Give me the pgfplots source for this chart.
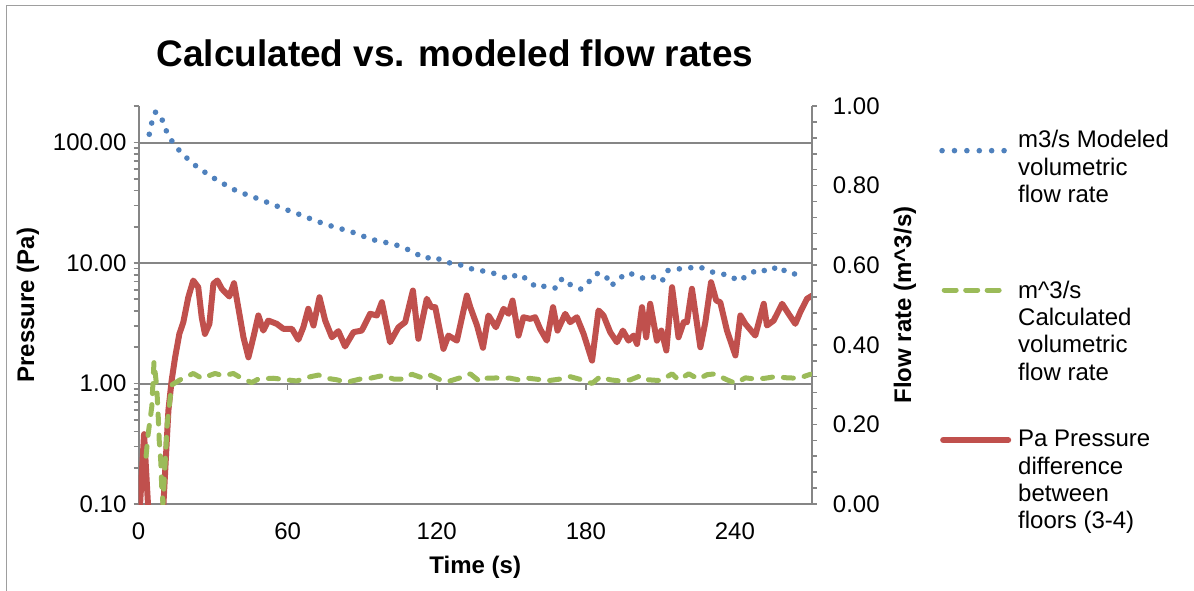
\documentclass[border=0pt]{standalone}
\usepackage{fontspec}
\setmainfont{Liberation Sans}
\usepackage{pgfplots}
\usepackage{pgfplotstable}
\pgfplotsset{compat=1.18}

\definecolor{xlblue}{HTML}{4F81BD}
\definecolor{xlred}{HTML}{C0504D}
\definecolor{xlgreen}{HTML}{9BBB59}
\definecolor{xlgrid}{HTML}{868686}

% pressure difference between floors 3-4 (Pa, left log axis)
\pgfplotstableread{
t p
0.0 0.06
0.6 0.10
2.2 0.38
3.9 0.09
5.0 0.04
9.0 0.04
10.0 0.10
12.0 0.60
13.3 1.06
14.7 1.65
16.4 2.58
18.0 3.23
20.0 5.20
22.0 7.16
24.0 6.30
25.4 3.55
26.7 2.58
28.5 3.13
30.1 6.72
31.7 7.16
33.5 6.11
36.5 5.27
38.4 6.80
40.1 4.30
42.2 2.42
44.2 1.65
46.2 2.42
48.2 3.67
50.2 2.75
52.2 3.33
55.6 3.13
58.3 2.84
61.7 2.84
64.3 2.31
66.3 2.93
68.3 4.17
70.4 3.03
72.8 5.20
75.1 3.33
77.8 2.42
80.4 2.72
83.1 2.03
86.5 2.67
89.8 2.75
93.2 3.79
95.9 3.67
97.9 4.73
101.2 2.20
104.6 2.93
107.3 3.23
110.4 5.91
112.6 2.35
116.0 5.05
117.8 4.30
119.4 4.30
122.7 1.94
124.7 2.50
128.1 2.27
132.1 5.37
133.5 4.30
136.2 3.03
138.6 1.98
140.8 3.67
143.8 2.93
146.9 4.17
148.9 3.79
150.5 4.88
152.9 2.50
154.9 3.55
157.6 3.44
159.6 3.55
161.6 2.84
164.3 2.27
166.8 4.30
168.6 2.75
171.7 3.79
173.7 3.23
176.4 3.55
179.1 2.58
182.5 1.55
185.1 4.04
187.1 3.67
189.8 2.67
192.5 2.20
194.9 2.75
197.2 2.27
199.2 2.50
200.6 2.13
202.6 4.30
204.3 2.42
205.9 4.59
208.6 2.27
210.4 2.75
212.4 1.88
214.7 6.30
217.3 2.42
219.4 3.23
220.7 3.23
222.7 6.11
226.1 2.00
228.1 3.23
230.4 6.93
232.5 4.88
234.1 4.73
236.8 2.75
240.2 1.71
242.2 3.67
244.2 3.13
248.2 2.50
251.6 4.59
252.9 3.03
255.6 3.33
259.0 4.59
261.6 3.79
264.3 3.13
266.3 3.91
269.0 5.05
271.1 5.37
}\pressure

% modeled volumetric flow rate (m3/s, right axis)
\pgfplotstableread{
t q
4.3 0.929
5.3 0.958
6.9 0.986
9.5 0.965
11.2 0.937
13.6 0.910
16.4 0.888
19.8 0.867
23.5 0.847
27.3 0.831
31.5 0.814
35.5 0.800
39.6 0.786
44.1 0.776
48.5 0.766
53.0 0.755
57.5 0.744
61.9 0.734
66.3 0.724
70.6 0.713
75.2 0.703
79.8 0.694
84.2 0.687
88.8 0.677
93.1 0.666
97.7 0.659
102.3 0.654
106.6 0.644
110.8 0.633
114.8 0.617
119.2 0.621
123.4 0.607
128.1 0.604
132.4 0.594
136.6 0.586
140.6 0.585
144.9 0.575
149.2 0.565
152.5 0.578
156.7 0.564
160.0 0.544
164.2 0.548
168.1 0.542
170.5 0.567
174.0 0.550
178.0 0.540
181.5 0.560
184.5 0.579
187.9 0.575
190.2 0.548
193.1 0.565
196.8 0.581
201.1 0.573
203.9 0.565
207.3 0.570
210.7 0.559
212.4 0.586
216.4 0.590
221.2 0.593
225.8 0.596
229.6 0.585
233.3 0.579
237.9 0.575
241.3 0.560
245.4 0.575
249.3 0.590
253.7 0.584
257.5 0.598
261.2 0.580
265.4 0.577
268.1 0.574
}\modeled

% calculated volumetric flow rate (m^3/s, right axis)
\pgfplotstableread{
t q
3.0 0.120
3.9 0.178
5.3 0.244
6.2 0.357
7.3 0.295
7.9 0.220
8.3 0.160
8.9 0.110
9.3 0.045
9.8 0.000
11.5 0.200
13.3 0.299
16.7 0.312
22.0 0.328
25.4 0.316
30.8 0.328
34.1 0.322
38.1 0.328
41.5 0.316
45.5 0.305
48.2 0.314
54.2 0.316
58.3 0.313
63.7 0.309
67.0 0.317
72.4 0.324
75.7 0.316
79.8 0.312
83.8 0.306
89.2 0.314
93.2 0.316
98.5 0.323
102.6 0.314
106.6 0.314
110.0 0.326
114.6 0.316
117.3 0.324
121.4 0.312
124.1 0.307
129.4 0.317
133.5 0.327
137.5 0.307
140.2 0.316
145.5 0.317
149.6 0.316
152.9 0.312
156.9 0.316
161.0 0.313
165.0 0.310
169.7 0.314
173.7 0.320
178.4 0.312
182.5 0.303
185.8 0.320
189.8 0.312
193.9 0.309
197.9 0.312
201.9 0.322
205.3 0.312
210.0 0.310
214.7 0.327
217.3 0.312
221.4 0.327
225.4 0.314
228.8 0.325
232.1 0.327
236.1 0.314
240.2 0.303
244.2 0.317
248.2 0.314
252.2 0.316
256.3 0.320
261.0 0.317
265.7 0.316
270.4 0.326
}\calculated

\pgfplotsset{
  chart/.style={
    scale only axis, width=505pt, height=298.5pt,
    at={(0pt,0pt)}, anchor=south west,
    xmin=0, xmax=271,
    tick align=outside,
    major tick length=3.75pt, minor tick length=3.75pt,
    tick style={xlgrid, line width=1.2pt},
    axis line style={xlgrid, line width=1.5pt},
    /pgf/number format/assume math mode=true,
    ticklabel style={font=\fontsize{18}{21}\selectfont, inner sep=0pt},
    label style={font=\bfseries\fontsize{18}{21}\selectfont},
  }
}

\begin{document}
\begin{tikzpicture}
\path[use as bounding box] (-103.95pt,-64.5pt) rectangle (791.55pt,378pt);
\draw[xlgrid!80, line width=0.9pt] (-99.1pt,-70pt) -- (-99.1pt,373.9pt) -- (800pt,373.9pt);

\begin{axis}[chart,
  ymode=log, ymin=0.1, ymax=201,
  axis y line*=left, axis x line*=bottom,
  ytick={0.1,1,10,100}, yticklabels={0.10,1.00,10.00,100.00},
  minor ytick={0.2,0.3,0.4,0.5,0.6,0.7,0.8,0.9,2,3,4,5,6,7,8,9,20,30,40,50,60,70,80,90,200},
  ymajorgrids, major grid style={xlgrid, line width=1.5pt},
  xtick={0,60,120,180,240},
  xtick style={draw=none},
  xticklabel style={anchor=north, yshift=-10.1pt},
  yticklabel style={anchor=east, xshift=-5.2pt},
  xlabel={Time (s)}, ylabel={Pressure (Pa)},
  xlabel style={at={(axis description cs:0.5,-0.1583)}, anchor=center},
  ylabel style={at={(axis description cs:-0.1643,0.5)}, anchor=center},
]
\addplot[xlred, line width=4.5pt, line join=round] table {\pressure};
\pgfplotsinvokeforeach{60,120,180,240}{
  \draw[xlgrid, line width=1.2pt] (axis cs:#1,1) -- ++(0pt,-4.5pt);
}
\end{axis}

\begin{axis}[chart,
  ymin=0, ymax=1,
  axis y line*=right, axis x line=none,
  ytick={0,0.2,0.4,0.6,0.8,1},
  yticklabels={0.00,0.20,0.40,0.60,0.80,1.00},
  minor y tick num=4,
  yticklabel style={anchor=west, xshift=11.8pt},
  ylabel={Flow rate (m\textasciicircum 3/s)},
  ylabel style={at={(axis description cs:1.1382,0.5)}, anchor=center},
]
\addplot[xlgreen, line width=3.75pt, line cap=round, line join=round,
  dash pattern=on 7.5pt off 8.25pt] table {\calculated};
\addplot[xlblue, line width=4.2pt, line cap=round, line join=round,
  dash pattern=on 0pt off 8.6pt] table {\modeled};
\end{axis}

% title
\node[anchor=base, font=\bfseries\fontsize{27.7}{33}\selectfont] at (237.3pt,327.75pt)
  {Calculated vs. modeled flow rates};

% legend
\draw[xlblue, line width=4.2pt, line cap=round, dash pattern=on 0pt off 9.3pt]
  (602.6pt,265pt) -- (649.2pt,265pt);
\draw[xlgreen, line width=3.75pt, line cap=round, dash pattern=on 9pt off 7.1pt]
  (604.2pt,160.5pt) -- (645.5pt,160.5pt);
\draw[xlred, line width=4.5pt, line cap=round]
  (603.4pt,48pt) -- (652.2pt,48pt);
\begin{scope}[every node/.style={anchor=base west, inner sep=0pt,
    font=\fontsize{18}{20.5}\selectfont}]
\node at (659.5pt,267.2pt) {\begin{tabular}[t]{@{}l@{}}m3/s Modeled\\ volumetric\\ flow rate\end{tabular}};
\node at (659.5pt,154.5pt) {\begin{tabular}[t]{@{}l@{}}m\textasciicircum 3/s\\ Calculated\\ volumetric\\ flow rate\end{tabular}};
\node at (659.5pt,43pt) {\begin{tabular}[t]{@{}l@{}}Pa Pressure\\ difference\\ between\\ floors (3-4)\end{tabular}};
\end{scope}
\end{tikzpicture}
\end{document}
